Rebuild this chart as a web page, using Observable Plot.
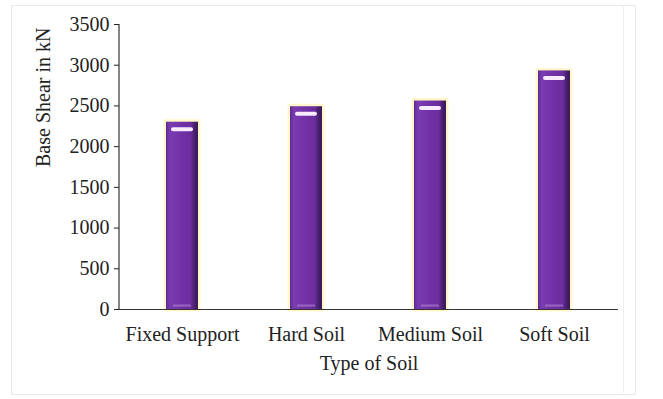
<!DOCTYPE html>
<html>
<head>
<meta charset="utf-8">
<script src="https://cdn.jsdelivr.net/npm/d3@7"></script>
<script src="https://cdn.jsdelivr.net/npm/@observablehq/plot@0.6"></script>
<style>
  html, body { margin: 0; padding: 0; background: #fff; }
  #wrap { position: relative; width: 663px; height: 399px; overflow: hidden; }
  #frame { position: absolute; left: 11px; top: 5px; width: 623px; height: 388px; border: 1px solid #e8e8e8; pointer-events: none; }
  #frame2 { position: absolute; left: 623px; top: 5px; width: 0; height: 388px; border-left: 1px solid #efefef; pointer-events: none; }
  svg { font-family: "Liberation Serif", "DejaVu Serif", serif; }
</style>
</head>
<body>
<div id="wrap"><div id="frame"></div><div id="frame2"></div></div>
<script>
const categories = ["Fixed Support", "Hard Soil", "Medium Soil", "Soft Soil"];
const baseShear = [2300, 2490, 2560, 2930];
const yTicks = [0, 500, 1000, 1500, 2000, 2500, 3000, 3500];

const data = categories.map((c, i) => ({ soil: c, value: baseShear[i] }));

// left axis line drawn from the plot's own dimensions
function leftAxisLine(index, scales, values, dims) {
  const line = document.createElementNS("http://www.w3.org/2000/svg", "line");
  line.setAttribute("x1", dims.marginLeft);
  line.setAttribute("x2", dims.marginLeft);
  line.setAttribute("y1", dims.marginTop);
  line.setAttribute("y2", dims.height - dims.marginBottom);
  line.setAttribute("stroke", "#333");
  line.setAttribute("stroke-width", "1.2");
  return line;
}

const chart = Plot.plot({
  width: 663,
  height: 399,
  marginLeft: 119,
  marginRight: 45,
  marginTop: 24,
  marginBottom: 90,
  style: { fontFamily: "Liberation Serif, serif", fontSize: "20px", color: "#222", background: "transparent" },
  x: { domain: categories, paddingInner: 0.74, paddingOuter: 0.37, label: null, tickSize: 0, tickPadding: 17 },
  y: { domain: [0, 3500], ticks: yTicks, tickFormat: d => String(d), label: null, tickSize: 5, tickPadding: 5 },
  marks: [
    Plot.barY(data, { x: "soil", y: "value", fill: "#fff4b8", stroke: "#fff0a0", strokeWidth: 5, strokeOpacity: 0.55, strokeLinejoin: "round" }),
    Plot.barY(data, { x: "soil", y: "value", fill: "url(#barGrad)" }),
    Plot.tickY(data, { x: "soil", y: "value", dy: 7, stroke: "#f8eaff", strokeWidth: 4, insetLeft: 7, insetRight: 7, strokeLinecap: "round" }),
    Plot.tickY(data, { x: "soil", y: 0, dy: -4, stroke: "#b58ad0", strokeWidth: 2, strokeOpacity: 0.6, insetLeft: 7, insetRight: 7 }),
    Plot.ruleY([0], { stroke: "#333", strokeWidth: 1.2 }),
    leftAxisLine,
    Plot.text(["Base Shear in kN"], { frameAnchor: "left", dx: -76, rotate: -90, fontSize: 20, fill: "#222" }),
    Plot.text(["Type of Soil"], { frameAnchor: "bottom", dy: 60, fontSize: 20, fill: "#222" })
  ]
});

// gradient definition for the bars
const svg = d3.select(chart);
const defs = svg.insert("defs", ":first-child");
const g = defs.append("linearGradient").attr("id", "barGrad").attr("x1", "0").attr("x2", "1").attr("y1", "0").attr("y2", "0");
[["0%", "#5f2a8e"], ["12%", "#7a3cb2"], ["45%", "#7332a8"], ["78%", "#6a2c9c"], ["88%", "#4a2070"], ["100%", "#3a1858"]]
  .forEach(([o, c]) => g.append("stop").attr("offset", o).attr("stop-color", c));

d3.select(chart).style("position", "absolute").style("left", "0").style("top", "0");
document.getElementById("wrap").appendChild(chart);
</script>
</body>
</html>
